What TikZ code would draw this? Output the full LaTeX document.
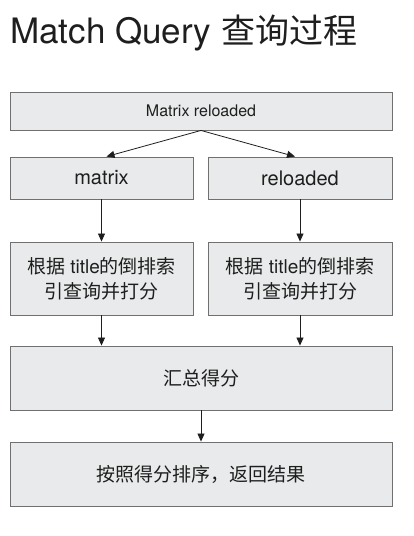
\documentclass[tikz,border=0pt]{standalone}
\usepackage{fontspec}
\setmainfont{TeX Gyre Heros}
\newfontfamily\cjk{Noto Sans CJK SC}
\usetikzlibrary{arrows.meta,positioning}

\definecolor{boxfill}{HTML}{E9EAEB}
\definecolor{boxline}{HTML}{707070}
\definecolor{inkdark}{HTML}{1E1E1E}

\begin{document}
\begin{tikzpicture}[
  x=1pt, y=-1pt,
  box/.style={rectangle, draw=boxline, fill=boxfill, line width=0.9pt, align=center, text=inkdark, inner sep=2pt},
  arrow/.style={-{Triangle[length=8pt,width=7pt]}, line width=0.8pt, draw=inkdark},
]
\useasboundingbox (0,0) rectangle (414,536);

% === TITLE ===
\node[anchor=base west, inner sep=0pt, text=inkdark, font=\fontsize{35}{40}\selectfont] (title) at (10,43) {Match Query {\cjk\fontsize{34}{40}\selectfont 查询过程}};

% === QUERY SPLIT ===
\node[box, minimum width=382pt, minimum height=38pt, font=\fontsize{16}{19}\selectfont] (query) at (201,111) {Matrix reloaded};

\node[box, minimum width=183pt, minimum height=42pt, font=\fontsize{20}{23}\selectfont] (termA) at (101.5,178) {matrix};
\node[box, minimum width=184pt, minimum height=42pt, font=\fontsize{20}{23}\selectfont] (termB) at (300,178) {reloaded};

% === INDEX LOOKUP ===
\node[box, minimum width=183pt, minimum height=73pt, font=\fontsize{19}{25}\selectfont] (lookA) at (101.5,278.5) {{\cjk 根据} title{\cjk 的倒排索}\\{\cjk 引查询并打分}};
\node[box, minimum width=184pt, minimum height=73pt, font=\fontsize{19}{25}\selectfont] (lookB) at (300,278.5) {{\cjk 根据} title{\cjk 的倒排索}\\{\cjk 引查询并打分}};

% === MERGE AND SORT ===
\node[box, minimum width=382pt, minimum height=64pt, font=\cjk\fontsize{19}{22}\selectfont] (merge) at (201,378) {汇总得分};
\node[box, minimum width=382pt, minimum height=64pt, font=\cjk\fontsize{19}{22}\selectfont] (rank) at (201,474) {按照得分排序，返回结果};

\draw[arrow] (query.south) -- ([xshift=5pt]termA.north);
\draw[arrow] (query.south) -- ([xshift=-5pt]termB.north);
\draw[arrow] (termA) -- (lookA);
\draw[arrow] (termB) -- (lookB);
\draw[arrow] (lookA.south) -- (lookA.south |- merge.north);
\draw[arrow] (lookB.south) -- (lookB.south |- merge.north);
\draw[arrow] (merge) -- (rank);
\end{tikzpicture}
\end{document}
